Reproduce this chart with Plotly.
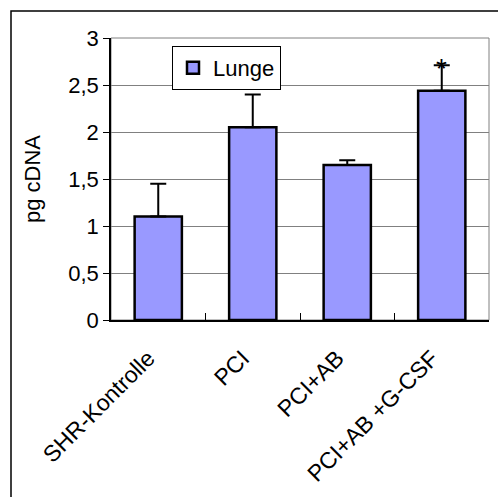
import plotly.graph_objects as go

# Lung cDNA per treatment group
categories = ["SHR-Kontrolle", "PCI", "PCI+AB", "PCI+AB +G-CSF"]
values = [1.10, 2.05, 1.65, 2.44]
errors_plus = [0.35, 0.35, 0.05, 0.27]
y_ticks = [0, 0.5, 1, 1.5, 2, 2.5, 3]
y_tick_labels = ["0", "0,5", "1", "1,5", "2", "2,5", "3"]
series_name = "Lunge"
marker_text = "*"
marked_index = 3

W, H = 498, 497
ml, mr, mt, mb = 111, 9, 38, 177
FONT = "Liberation Sans, Arial, sans-serif"

fig = go.Figure()
fig.add_trace(go.Bar(
    x=categories,
    y=values,
    name=series_name,
    marker=dict(color="#9999FF", line=dict(color="black", width=2.5)),
    error_y=dict(type="data", symmetric=False, array=errors_plus,
                 arrayminus=[0] * len(values),
                 color="black", thickness=2, width=8),
    showlegend=True,
))

# significance marker above the error bar
fig.add_annotation(
    x=categories[marked_index],
    y=values[marked_index] + errors_plus[marked_index],
    text=marker_text, showarrow=False, yanchor="middle", yshift=-3,
    font=dict(size=28, color="black", family=FONT),
)

def px_x(p):
    return (p - ml) / (W - ml - mr)

def px_y(p):
    return (H - mb - p) / (H - mt - mb)

# outer chart frame
fig.add_shape(type="rect", xref="paper", yref="paper",
              x0=px_x(11), x1=px_x(W + 20), y0=px_y(11), y1=px_y(H + 20),
              line=dict(color="black", width=1.5), fillcolor="rgba(0,0,0,0)",
              layer="below")
# plot area border
fig.add_shape(type="rect", xref="paper", yref="paper",
              x0=0, x1=1, y0=0, y1=1,
              line=dict(color="#808080", width=1), fillcolor="rgba(0,0,0,0)",
              layer="below")

fig.update_layout(
    width=W, height=H,
    margin=dict(l=ml, r=mr, t=mt, b=mb),
    paper_bgcolor="white", plot_bgcolor="white",
    font=dict(family=FONT, size=22, color="black"),
    bargap=0.5,
    legend=dict(x=px_x(172), y=px_y(46), xanchor="left", yanchor="top",
                bgcolor="white", bordercolor="black", borderwidth=1,
                font=dict(size=22), itemwidth=30, tracegroupgap=0),
    xaxis=dict(
        type="category", tickson="boundaries", ticks="inside", ticklen=7,
        tickcolor="black", tickwidth=1, tickangle=-45,
        showline=True, linecolor="black", linewidth=1.5,
        showgrid=False, zeroline=False,
        tickfont=dict(size=23),
        ticklabelstandoff=14, ticklabelshift=-10,
    ),
    yaxis=dict(
        range=[0, 3], tickvals=y_ticks, ticktext=y_tick_labels,
        ticks="outside", ticklen=6, tickcolor="black", tickwidth=1,
        showline=True, linecolor="black", linewidth=1.5,
        showgrid=True, gridcolor="#808080", gridwidth=1,
        zeroline=False,
        title=dict(text="pg cDNA", font=dict(size=22), standoff=22),
        tickfont=dict(size=22),
    ),
)

fig.write_html("out.html")
